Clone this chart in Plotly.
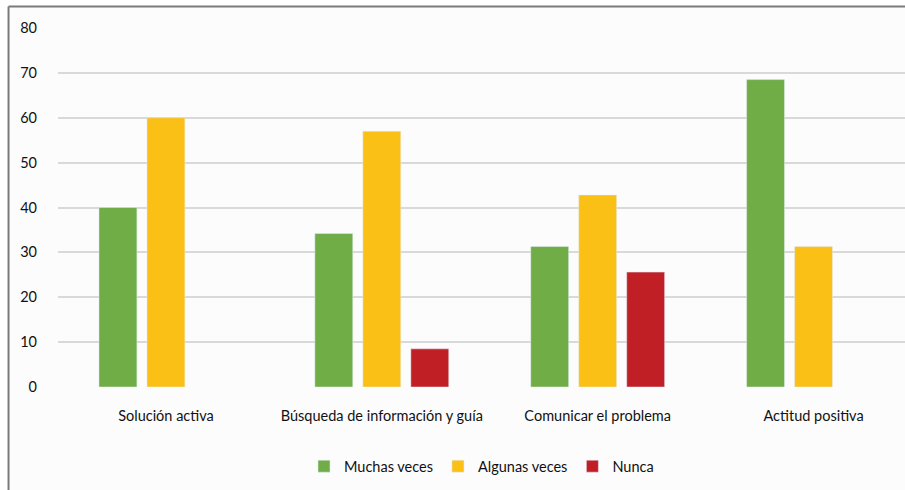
import plotly.graph_objects as go

# Categories and percentages per response frequency
categories = ["Solución activa", "Búsqueda de información y guía", "Comunicar el problema", "Actitud positiva"]
muchas_veces = [40.0, 34.2, 31.3, 68.5]
algunas_veces = [60.0, 57.0, 42.8, 31.3]
nunca = [None, 8.5, 25.6, None]
y_ticks = [0, 10, 20, 30, 40, 50, 60, 70, 80]

W, H = 905, 490
L, R, T, B = 57.5, 0, 27.5, 103.3
pw, ph = W - L - R, H - T - B


def px_x(x):
    return (x - L) / pw


def px_y(y):
    return (H - B - y) / ph


font = dict(family="Lato, 'Open Sans', sans-serif", size=14.5, color="#111111")

fig = go.Figure()
fig.add_bar(name="Muchas veces", x=categories, y=muchas_veces, marker_color="#70AD47")
fig.add_bar(name="Algunas veces", x=categories, y=algunas_veces, marker_color="#FBC015")
fig.add_bar(name="Nunca", x=categories, y=nunca, marker_color="#C01F25")

# Panel background and its top/left frame lines
fig.add_shape(type="rect", xref="paper", yref="paper", x0=px_x(8), x1=px_x(W + 5), y0=px_y(H + 5), y1=px_y(6),
              fillcolor="#FCFCFC", line_width=0, layer="below")
fig.add_shape(type="line", xref="paper", yref="paper", x0=px_x(8), x1=px_x(W + 5), y0=px_y(6), y1=px_y(6),
              line=dict(color="#7a7a7a", width=2))
fig.add_shape(type="line", xref="paper", yref="paper", x0=px_x(8), x1=px_x(8), y0=px_y(6), y1=px_y(H + 5),
              line=dict(color="#7a7a7a", width=2))

fig.update_layout(
    width=W, height=H,
    margin=dict(l=L, r=R, t=T, b=B, pad=0),
    paper_bgcolor="white",
    plot_bgcolor="rgba(0,0,0,0)",
    font=font,
    barmode="group",
    bargap=0.333,
    bargroupgap=0.21,
    showlegend=True,
    legend=dict(orientation="h", x=0.5, xanchor="center", y=px_y(466), yanchor="middle",
                bgcolor="rgba(0,0,0,0)", font=font, itemwidth=30),
)
fig.update_xaxes(range=[-0.5, 3.5 - (921.5 - W) / 216], showgrid=False, zeroline=False, showline=False,
                 ticks="", tickfont=font, ticklabelstandoff=18)
fig.update_yaxes(range=[0, 80], tickvals=y_ticks, showgrid=True, gridcolor="#D9D9D9", gridwidth=1.5,
                 zeroline=False, showline=False, ticks="", tickfont=font, ticklabelstandoff=20)

fig.write_html("out.html")
